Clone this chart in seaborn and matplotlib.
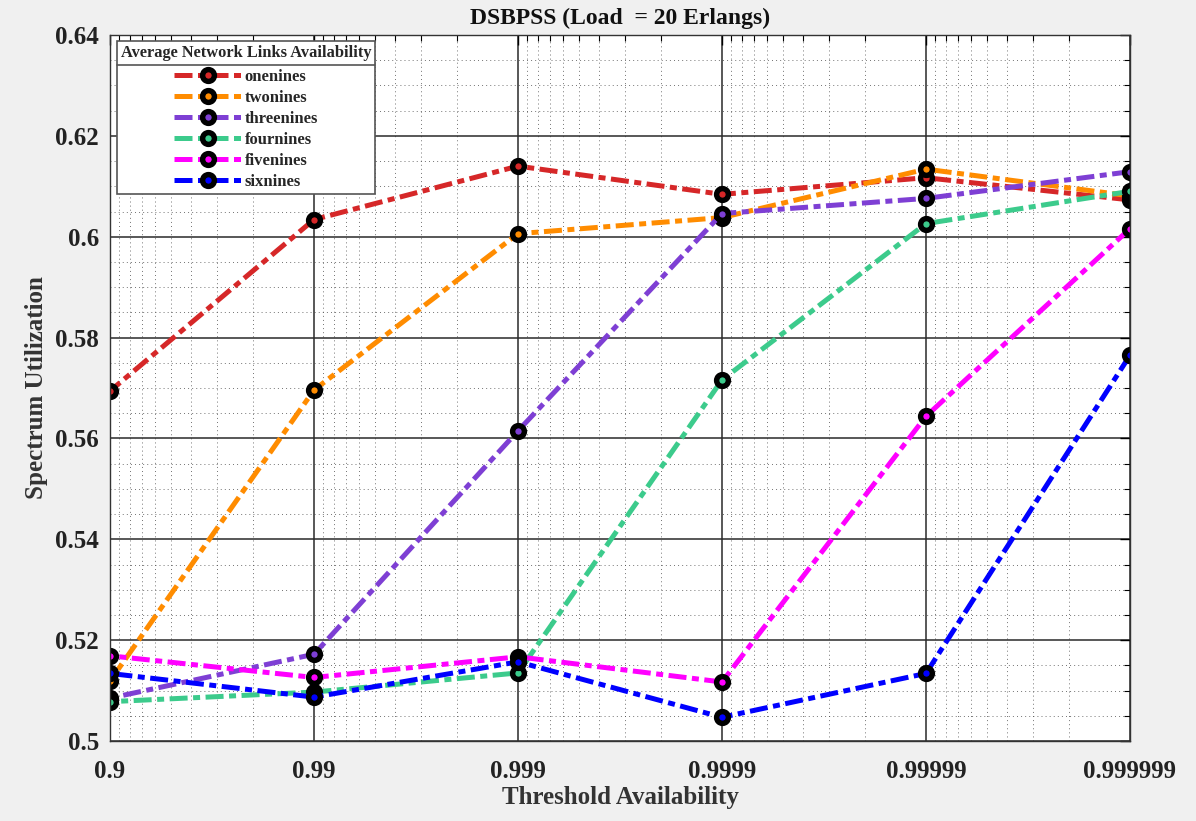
import matplotlib
matplotlib.use("Agg")
import matplotlib.pyplot as plt
import matplotlib.ticker as mticker
from matplotlib.lines import Line2D
import numpy as np
import pandas as pd
import seaborn as sns

# ---- data ----
threshold_labels = ["0.9", "0.99", "0.999", "0.9999", "0.99999", "0.999999"]
threshold = [0.9, 0.99, 0.999, 0.9999, 0.99999, 0.999999]
series_names = ["onenines", "twonines", "threenines", "fournines", "fivenines", "sixnines"]
onenines = [0.5694, 0.6034, 0.6140, 0.6084, 0.6117, 0.6073]
twonines = [0.5119, 0.5696, 0.6006, 0.6038, 0.6134, 0.6081]
threenines = [0.5085, 0.5172, 0.5615, 0.6046, 0.6076, 0.6129]
fournines = [0.5078, 0.5097, 0.5135, 0.5716, 0.6026, 0.6090]
fivenines = [0.5169, 0.5126, 0.5167, 0.5117, 0.5644, 0.6016]
sixnines = [0.5134, 0.5087, 0.5157, 0.5047, 0.5134, 0.5765]
series_values = [onenines, twonines, threenines, fournines, fivenines, sixnines]
colors = ["#D62728", "#FF8C00", "#7E3FD4", "#3CCB8C", "#FF00FF", "#0000FF"]

unavail = [round(1 - t, 10) for t in threshold]

sns.set_style("white")
plt.rcParams["font.family"] = ["Liberation Serif", "DejaVu Serif"]
plt.rcParams["font.weight"] = "bold"

fig = plt.figure(figsize=(11.96, 8.21), dpi=100, facecolor="#F0F0F0")
ax = fig.add_axes([110 / 1196, 80 / 821, 1020 / 1196, 706 / 821])
ax.set_facecolor("white")

for name, vals, col in zip(series_names, series_values, colors):
    df = pd.DataFrame({"x": unavail, "y": vals})
    sns.lineplot(data=df, x="x", y="y", ax=ax, color=col, label=name,
                 linewidth=3.6, linestyle=(0, (3.6, 1.1, 1.4, 1.1)),
                 marker="o", markersize=8.5, markerfacecolor=col,
                 markeredgecolor="black", markeredgewidth=3.9)

ax.set_xscale("log")
ax.set_xlim(0.1, 1e-6)
ax.set_ylim(0.5, 0.64)
ax.set_xticks(unavail)
ax.set_xticklabels(threshold_labels)
ax.xaxis.set_minor_locator(mticker.LogLocator(base=10, subs=np.arange(2, 10)))
ax.xaxis.set_minor_formatter(mticker.NullFormatter())
ax.yaxis.set_major_locator(mticker.MultipleLocator(0.02))
ax.yaxis.set_major_formatter(mticker.FuncFormatter(lambda v, p: "%g" % round(v, 4)))
ax.yaxis.set_minor_locator(mticker.MultipleLocator(0.005))

ax.grid(which="major", color="#2a2a2a", linewidth=1.1, linestyle="-")
ax.grid(which="minor", color="#444444", linewidth=0.7, linestyle=(0, (1, 3.2)), alpha=0.75)
ax.set_axisbelow(True)

ax.tick_params(which="both", direction="in", top=True, right=True, colors="black")
ax.tick_params(which="major", length=7, width=1)
ax.tick_params(which="minor", length=4, width=0.8)
ax.tick_params(axis="x", which="major", pad=14, labelsize=18)
ax.tick_params(axis="y", which="major", pad=8, labelsize=18)
for lab in ax.get_xticklabels() + ax.get_yticklabels():
    lab.set_fontweight("bold")
    lab.set_color("#222222")

for sp in ax.spines.values():
    sp.set_color("#333333")
    sp.set_linewidth(1.0)

ax.set_xlabel("Threshold Availability", fontsize=18, fontweight="bold", color="#333333", labelpad=2)
ax.set_ylabel("Spectrum Utilization", fontsize=18, fontweight="bold", color="#333333", labelpad=5)
ax.set_title("DSBPSS (Load  = 20 Erlangs)", fontsize=17, fontweight="bold", color="#111111", pad=8)

handles, labels = ax.get_legend_handles_labels()
leg = ax.legend(handles, labels, title="Average Network Links Availability",
                loc="upper left", bbox_to_anchor=(0.007, 0.9915),
                prop={"weight": "bold", "size": 12},
                title_fontproperties={"weight": "bold", "size": 11.8},
                frameon=True, fancybox=False, framealpha=1, edgecolor="#555555",
                handlelength=4.0, handletextpad=0.2, labelspacing=0.3,
                borderpad=0.22, borderaxespad=0, alignment="center")
leg.get_frame().set_linewidth(1.2)
leg._legend_box.sep = 6

fig.canvas.draw()
fb = leg.get_frame().get_window_extent()
tb = leg.get_title().get_window_extent()
ysep = (tb.y0 - 4) / fig.bbox.height
fig.add_artist(Line2D([fb.x0 / fig.bbox.width, fb.x1 / fig.bbox.width], [ysep, ysep],
                      transform=fig.transFigure, color="#555555", linewidth=1.2, zorder=10))

fig.savefig("out.png", dpi=100, facecolor=fig.get_facecolor())
